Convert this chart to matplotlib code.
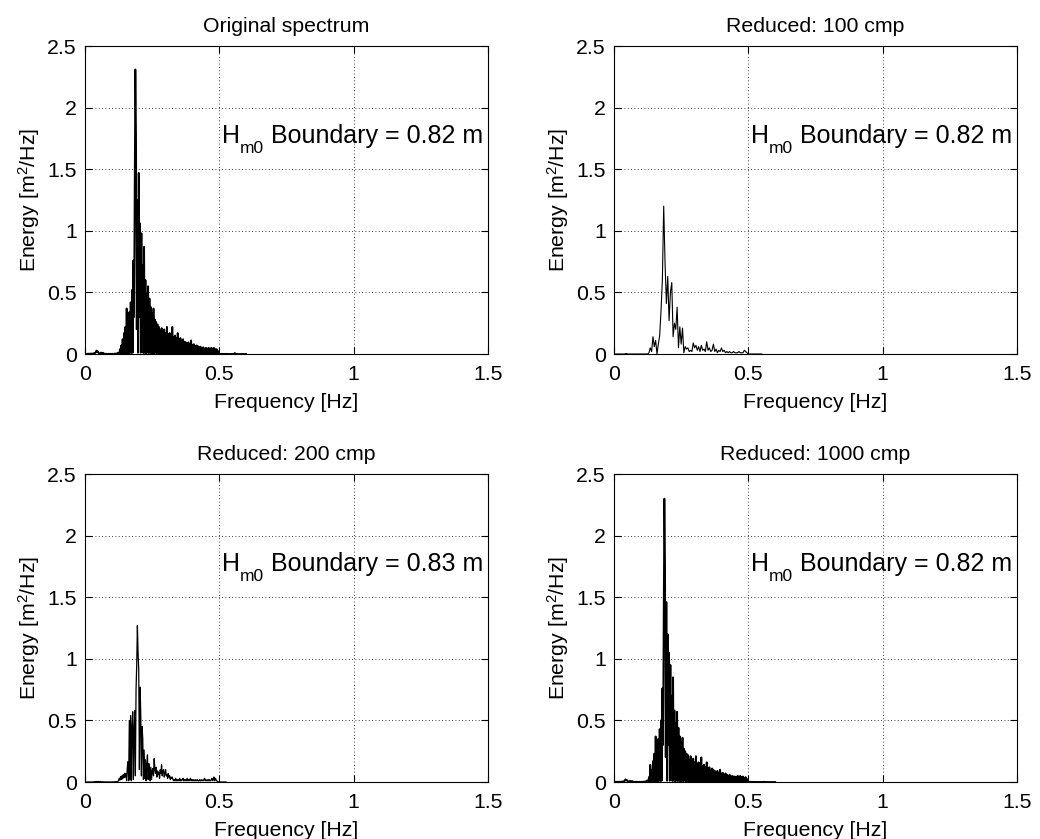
import numpy as np
import matplotlib
matplotlib.use("Agg")
import matplotlib.pyplot as plt

plt.rcParams['font.family'] = ['Liberation Sans', 'DejaVu Sans']
plt.rcParams['mathtext.fontset'] = 'custom'
plt.rcParams['mathtext.rm'] = 'Liberation Sans'
plt.rcParams['mathtext.it'] = 'Liberation Sans'
plt.rcParams['path.simplify'] = False

# ---------------- data ----------------
titles = ["Original spectrum", "Reduced: 100 cmp", "Reduced: 200 cmp", "Reduced: 1000 cmp"]
hm0_values = ["0.82", "0.82", "0.83", "0.82"]
xticks = [0, 0.5, 1, 1.5]
xticklabels = ['0', '0.5', '1', '1.5']
yticks = [0, 0.5, 1, 1.5, 2, 2.5]
yticklabels = ['0', '0.5', '1', '1.5', '2', '2.5']

df_fine = 0.0025   # frequency step of dense spectra [Hz]
df_100 = 0.005     # frequency step of the 100-component spectrum [Hz]

energy_original = [
    0, 0, 0.001, 0.002, 0.001, 0.003, 0.002, 0.001, 0.004, 0.002,
    0.003, 0.002, 0.005, 0.004, 0.008, 0.006, 0.012, 0.028, 0.015, 0.022,
    0.010, 0.006, 0.004, 0.008, 0.012, 0.006, 0.003, 0.010, 0.004, 0.002,
    0.002, 0.001, 0.002, 0.001, 0.001, 0.002, 0.001, 0.001, 0.002, 0.001,
    0.001, 0.002, 0.001, 0.002, 0.003, 0.002, 0.004, 0.003, 0.005, 0.010,
    0.008, 0.002, 0.040, 0.003, 0.070, 0.004, 0.120, 0.005, 0.170, 0.006,
    0.220, 0.005, 0.370, 0.008, 0.300, 0.006, 0.340, 0.010, 0.420, 0.008,
    0.520, 0.010, 0.760, 0.300, 1.390, 2.310, 1.780, 0.200, 1.250, 0.010,
    1.470, 0.300, 1.060, 0.010, 0.980, 0.150, 0.720, 0.008, 0.870, 0.010,
    0.600, 0.006, 0.490, 0.010, 0.550, 0.008, 0.450, 0.010, 0.380, 0.006,
    0.330, 0.008, 0.370, 0.006, 0.280, 0.010, 0.260, 0.005, 0.240, 0.008,
    0.220, 0.006, 0.190, 0.008, 0.210, 0.005, 0.180, 0.007, 0.200, 0.005,
    0.170, 0.006, 0.220, 0.005, 0.160, 0.007, 0.170, 0.004, 0.150, 0.006,
    0.220, 0.005, 0.140, 0.006, 0.150, 0.004, 0.130, 0.005, 0.170, 0.004,
    0.120, 0.005, 0.130, 0.004, 0.110, 0.005, 0.120, 0.004, 0.100, 0.003,
    0.095, 0.004, 0.090, 0.003, 0.095, 0.004, 0.080, 0.003, 0.110, 0.003,
    0.075, 0.003, 0.080, 0.003, 0.065, 0.003, 0.070, 0.002, 0.065, 0.003,
    0.055, 0.002, 0.060, 0.003, 0.050, 0.002, 0.055, 0.002, 0.045, 0.002,
    0.050, 0.002, 0.045, 0.002, 0.050, 0.002, 0.045, 0.002, 0.050, 0.002,
    0.045, 0.002, 0.050, 0.002, 0.040, 0.002, 0.040, 0.002, 0.025, 0.002,
    0.002, 0.001, 0.001, 0.002, 0.001, 0.001, 0, 0.001, 0, 0.001,
    0.001, 0, 0.001, 0, 0, 0.001, 0, 0, 0.001, 0,
    0, 0.002, 0, 0.008, 0.003, 0, 0.001, 0, 0, 0,
    0, 0, 0, 0, 0, 0, 0, 0, 0, 0,
    0,
]

energy_100 = [
    0, 0, 0, 0, 0, 0, 0, 0, 0, 0.004,
    0, 0, 0, 0, 0, 0, 0, 0, 0, 0,
    0, 0, 0, 0, 0, 0, 0.01, 0.05, 0.02, 0.14,
    0.06, 0.11, 0.0, 0.08, 0.15, 0.35, 0.60, 1.20, 0.74, 0.41,
    0.63, 0.27, 0.50, 0.58, 0.14, 0.25, 0.20, 0.38, 0.05, 0.22,
    0.08, 0.21, 0.01, 0.06, 0.04, 0.05, 0.02, 0.03, 0.02, 0.09,
    0.05, 0.07, 0.03, 0.06, 0.02, 0.07, 0.03, 0.04, 0.02, 0.10,
    0.03, 0.05, 0.02, 0.03, 0.08, 0.02, 0.04, 0.01, 0.03, 0.02,
    0.05, 0.02, 0.03, 0.01, 0.02, 0.01, 0.02, 0.01, 0.01, 0.02,
    0.01, 0.01, 0.01, 0.02, 0.01, 0.01, 0.01, 0.03, 0.02, 0.01,
    0, 0, 0, 0, 0, 0, 0, 0, 0, 0,
    0,
]

energy_200 = [
    0, 0, 0, 0, 0, 0, 0, 0, 0, 0,
    0, 0, 0, 0.002, 0.001, 0.003, 0.002, 0.004, 0.002, 0.003,
    0.005, 0.003, 0.002, 0.004, 0.002, 0.001, 0.002, 0.001, 0.001, 0.001,
    0.001, 0, 0.001, 0, 0.001, 0, 0, 0.001, 0, 0,
    0, 0.001, 0, 0.001, 0.002, 0.001, 0.003, 0.002, 0.004, 0.006,
    0.010, 0.030, 0.015, 0.045, 0.020, 0.050, 0.025, 0.060, 0.035, 0.070,
    0.040, 0.070, 0.010, 0.120, 0.165, 0.010, 0.500, 0.020, 0.540, 0.010,
    0.450, 0.570, 0.020, 0.420, 0.580, 0.050, 0.750, 0.950, 1.270, 1.050,
    0.910, 0.100, 0.770, 0.560, 0.050, 0.450, 0.350, 0.020, 0.260, 0.030,
    0.180, 0.010, 0.140, 0.220, 0.020, 0.150, 0.100, 0.010, 0.120, 0.020,
    0.090, 0.110, 0.050, 0.190, 0.100, 0.070, 0.120, 0.040, 0.090, 0.060,
    0.080, 0.030, 0.100, 0.070, 0.140, 0.050, 0.090, 0.100, 0.040, 0.070,
    0.100, 0.050, 0.060, 0.030, 0.070, 0.040, 0.050, 0.020, 0.040, 0.030,
    0.040, 0.020, 0.010, 0.020, 0.010, 0.030, 0.010, 0.020, 0.010, 0.020,
    0.010, 0.030, 0.010, 0.020, 0.010, 0.020, 0.030, 0.010, 0.020, 0.010,
    0.020, 0.010, 0.030, 0.010, 0.020, 0.010, 0.020, 0.030, 0.010, 0.020,
    0.010, 0.020, 0.010, 0.010, 0.020, 0.010, 0.010, 0.020, 0.010, 0.010,
    0.010, 0.020, 0.010, 0.010, 0.020, 0.010, 0.010, 0.020, 0.030, 0.010,
    0.020, 0.010, 0.010, 0.020, 0.010, 0.020, 0.010, 0.010, 0.020, 0.030,
    0.010, 0.020, 0.040, 0.010, 0.030, 0.020, 0.010, 0.005, 0.002, 0.001,
    0, 0, 0, 0, 0, 0, 0, 0, 0, 0,
    0,
]

energy_1000 = [
    0, 0, 0.001, 0.002, 0.001, 0.002, 0.001, 0.001, 0.003, 0.002,
    0.002, 0.003, 0.004, 0.003, 0.006, 0.005, 0.010, 0.022, 0.012, 0.018,
    0.009, 0.005, 0.004, 0.007, 0.010, 0.005, 0.003, 0.008, 0.004, 0.002,
    0.002, 0.001, 0.002, 0.001, 0.001, 0.002, 0.001, 0.001, 0.002, 0.001,
    0.001, 0.002, 0.001, 0.002, 0.003, 0.002, 0.004, 0.003, 0.006, 0.012,
    0.010, 0.002, 0.040, 0.003, 0.140, 0.004, 0.100, 0.005, 0.170, 0.006,
    0.230, 0.005, 0.370, 0.008, 0.290, 0.006, 0.350, 0.010, 0.430, 0.008,
    0.500, 0.010, 0.760, 0.300, 1.380, 2.300, 1.780, 0.200, 1.460, 0.010,
    1.200, 0.300, 1.050, 0.010, 0.950, 0.150, 0.700, 0.008, 0.850, 0.010,
    0.580, 0.006, 0.480, 0.010, 0.570, 0.008, 0.440, 0.010, 0.370, 0.006,
    0.320, 0.008, 0.360, 0.006, 0.270, 0.010, 0.250, 0.005, 0.230, 0.008,
    0.220, 0.006, 0.180, 0.008, 0.210, 0.005, 0.170, 0.007, 0.190, 0.005,
    0.160, 0.006, 0.210, 0.005, 0.150, 0.007, 0.160, 0.004, 0.150, 0.006,
    0.200, 0.005, 0.130, 0.006, 0.140, 0.004, 0.120, 0.005, 0.160, 0.004,
    0.110, 0.005, 0.120, 0.004, 0.100, 0.005, 0.110, 0.004, 0.100, 0.003,
    0.090, 0.004, 0.085, 0.003, 0.090, 0.004, 0.075, 0.003, 0.100, 0.003,
    0.070, 0.003, 0.075, 0.003, 0.060, 0.003, 0.070, 0.002, 0.060, 0.003,
    0.050, 0.002, 0.060, 0.003, 0.045, 0.002, 0.050, 0.002, 0.045, 0.002,
    0.045, 0.002, 0.040, 0.002, 0.050, 0.002, 0.045, 0.002, 0.050, 0.002,
    0.040, 0.002, 0.045, 0.002, 0.035, 0.002, 0.040, 0.002, 0.025, 0.002,
    0.002, 0.001, 0.001, 0.002, 0.001, 0.001, 0, 0.001, 0, 0.001,
    0.001, 0, 0.001, 0, 0, 0.001, 0, 0, 0.001, 0,
    0, 0.001, 0, 0.003, 0.001, 0, 0.001, 0, 0, 0,
    0, 0, 0, 0, 0, 0, 0, 0, 0, 0,
    0,
]

series = [
    (energy_original, df_fine, 1.3),
    (energy_100, df_100, 0.8),
    (energy_200, df_fine, 0.9),
    (energy_1000, df_fine, 1.3),
]

# ---------------- figure ----------------
fig = plt.figure(figsize=(10.40, 8.39), dpi=100)
W, H = 1040.0, 839.0
ax_px = [(85, 46), (614, 46), (85, 474), (614, 474)]   # left, top in pixels
aw, ah = 403.0, 308.0
FS = 15.3
renderer = fig.canvas.get_renderer()
PX2PT = 72.0 / fig.dpi

for i, (vals, df, lw) in enumerate(series):
    lx, ty = ax_px[i]
    ax = fig.add_axes([lx / W, 1 - (ty + ah) / H, aw / W, ah / H])
    freq = np.arange(len(vals)) * df
    ax.plot(freq, vals, color='black', lw=lw)
    ax.set_xlim(0, 1.5)
    ax.set_ylim(0, 2.5)
    ax.set_xticks(xticks)
    ax.set_xticklabels(xticklabels)
    ax.set_yticks(yticks)
    ax.set_yticklabels(yticklabels)
    ax.tick_params(direction='in', length=5, width=0.8, top=True, right=True,
                   labelsize=FS, pad=6)
    ax.tick_params(axis='x', pad=8)
    ax.grid(True, color='black', linestyle=(0, (1, 3)), linewidth=0.6)
    for s in ax.spines.values():
        s.set_linewidth(0.8)
    ax.set_title(titles[i], fontsize=FS, pad=10)
    ax.set_xlabel('Frequency [Hz]', fontsize=FS, labelpad=6.5)
    ax.set_ylabel(r'Energy [m$\mathregular{^2}$/Hz]', fontsize=FS, labelpad=3.5)

    # H_m0 annotation built from pieces: H, lowered subscript m0, rest of text
    tx, tyv = 0.51, 1.71
    t1 = ax.text(tx, tyv, 'H', fontsize=18, va='baseline', ha='left')
    w1 = t1.get_window_extent(renderer).width
    t2 = ax.annotate('m0', xy=(tx, tyv), xycoords='data',
                     xytext=(w1 * PX2PT, -10 * PX2PT), textcoords='offset points',
                     fontsize=12.5, va='baseline', ha='left')
    w2 = t2.get_window_extent(renderer).width
    ax.annotate(' Boundary = ' + hm0_values[i] + ' m', xy=(tx, tyv), xycoords='data',
                xytext=((w1 + w2) * PX2PT, 0), textcoords='offset points',
                fontsize=18, va='baseline', ha='left')

fig.savefig('out.png', dpi=100)
